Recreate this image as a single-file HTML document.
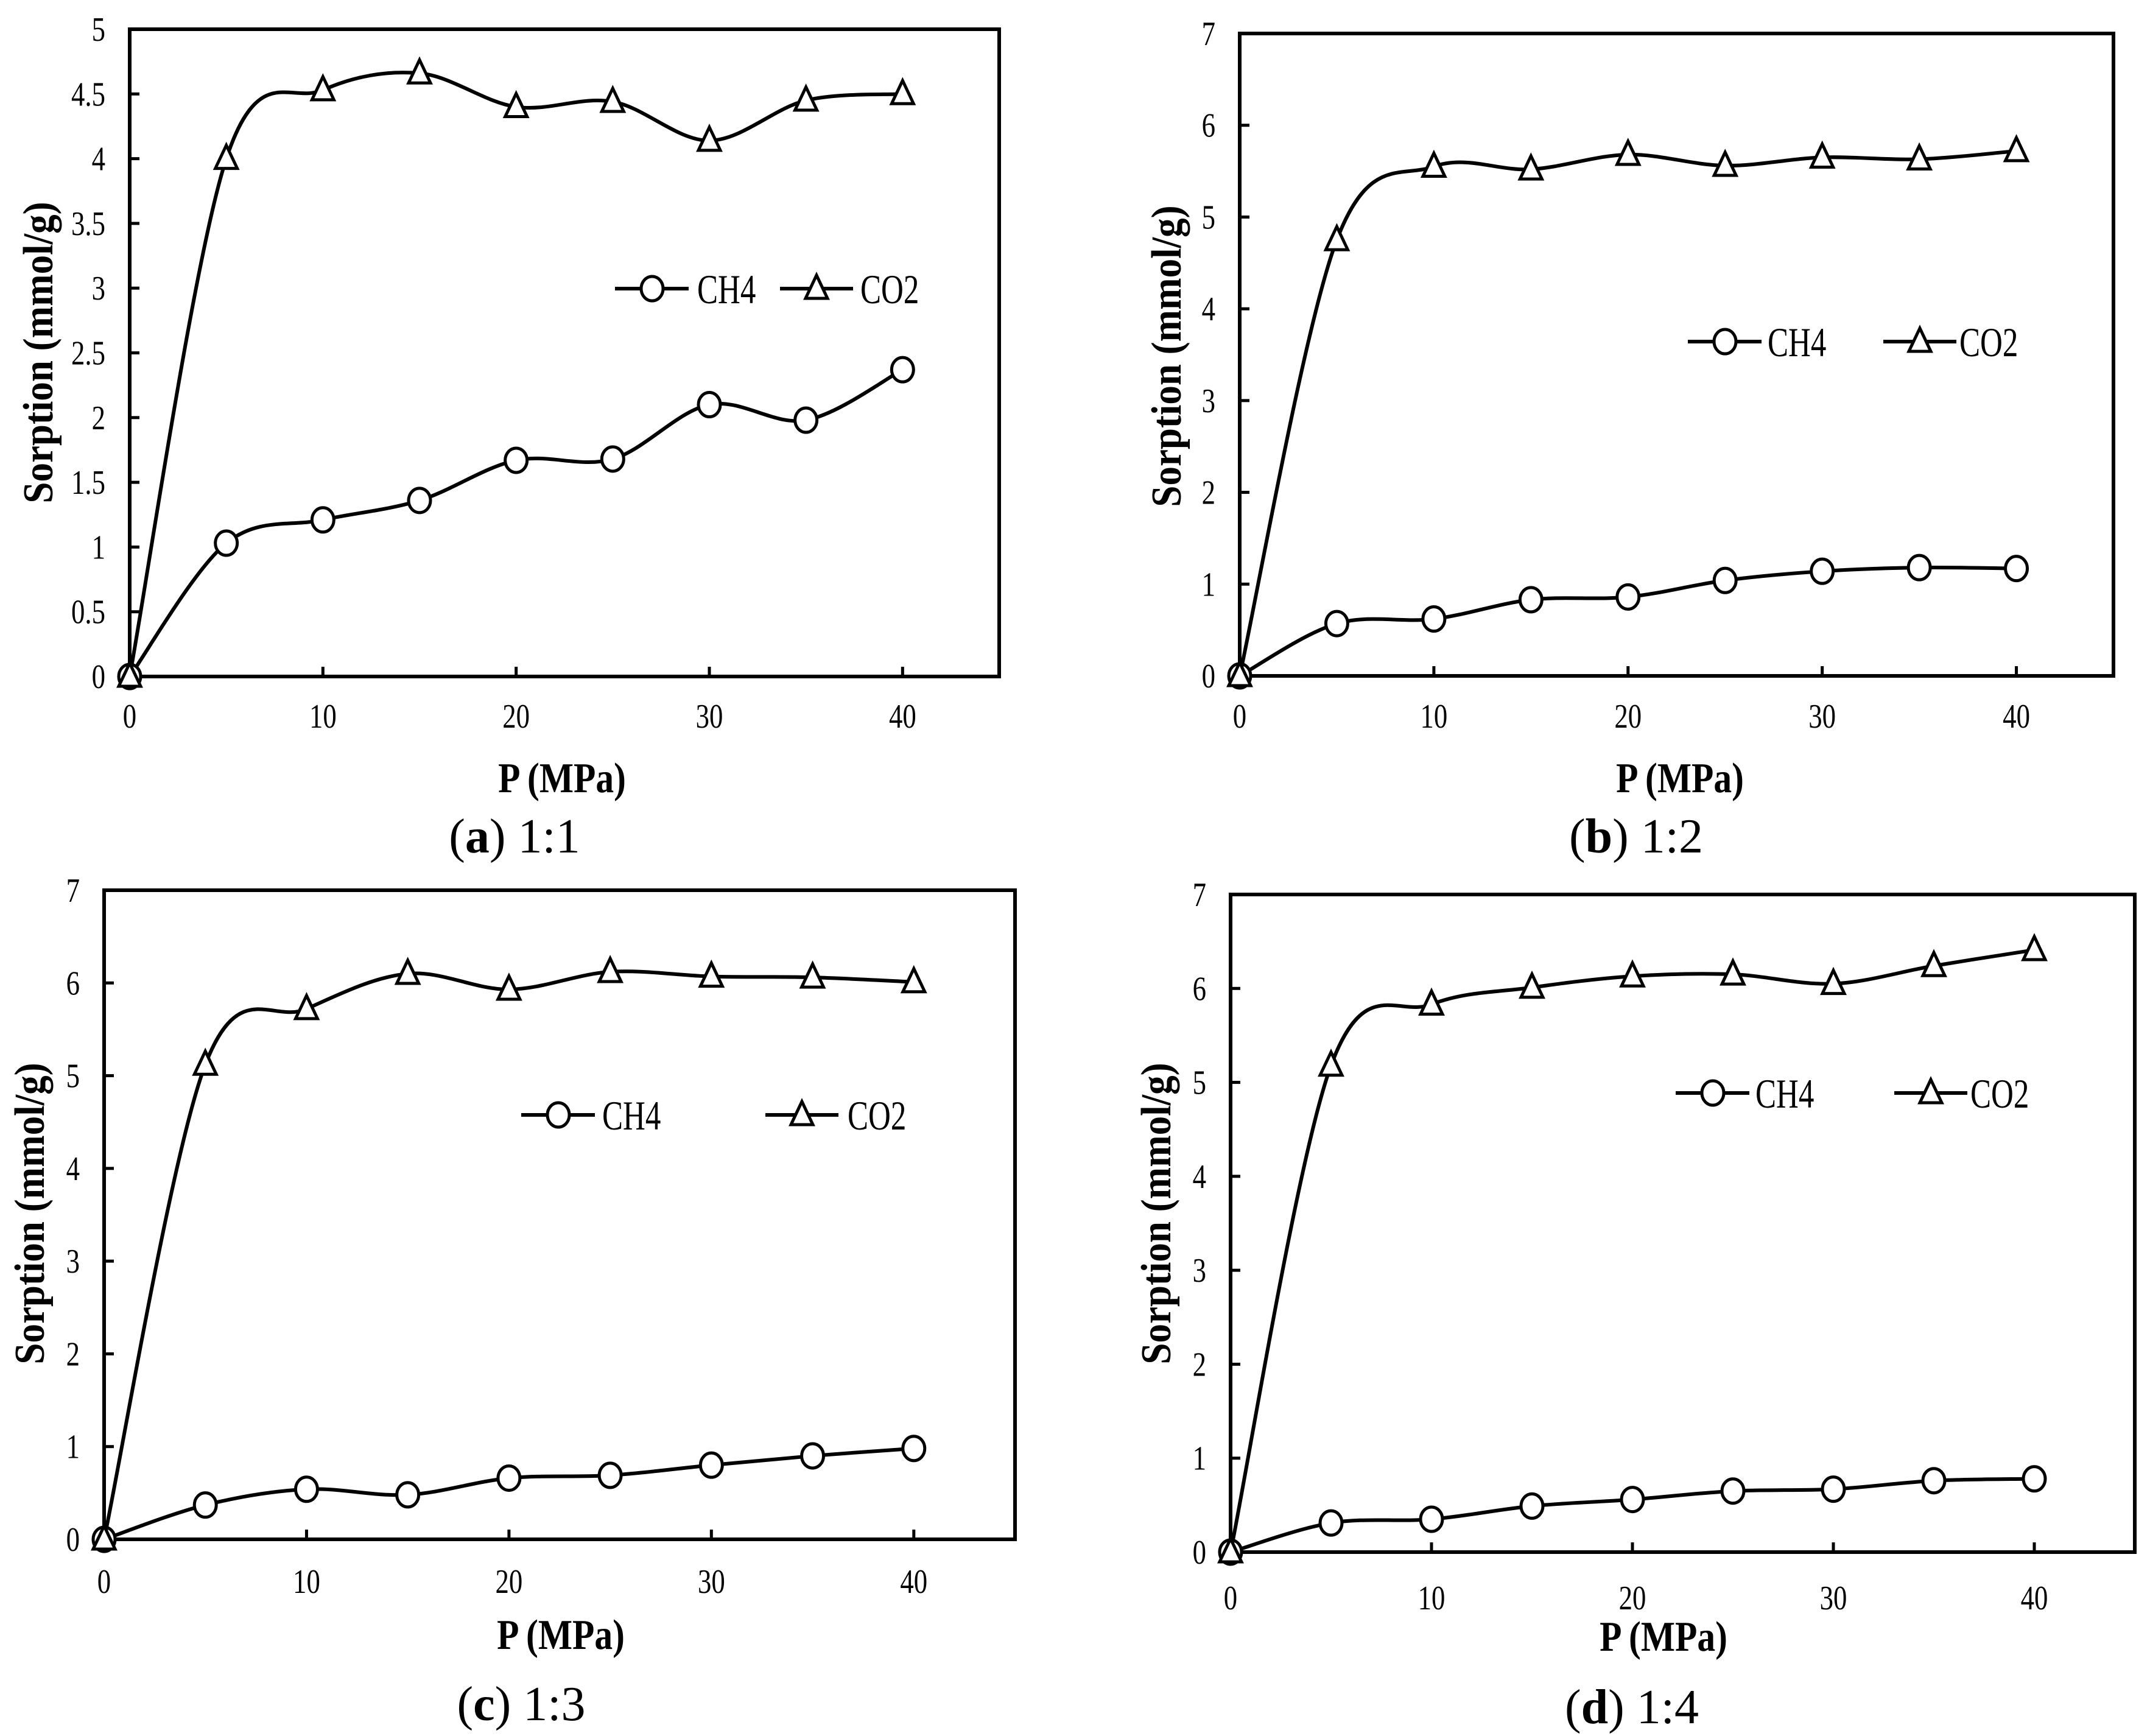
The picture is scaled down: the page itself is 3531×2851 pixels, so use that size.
<!DOCTYPE html>
<html><head><meta charset="utf-8"><style>
html,body{margin:0;padding:0;background:#fff;}
svg{display:block;font-family:"Liberation Serif",serif;}
</style></head><body>
<svg id="fig" width="3531" height="2851" viewBox="0 0 3531 2851"></svg>
<script>
const pressures = [0,5,10,15,20,25,30,35,40];
const ch4A = [0,1.03,1.21,1.36,1.67,1.68,2.10,1.98,2.37];
const co2A = [0,4.00,4.53,4.66,4.40,4.44,4.14,4.45,4.50];
const ch4B = [0,0.57,0.62,0.83,0.86,1.04,1.14,1.18,1.17];
const co2B = [0,4.75,5.55,5.52,5.68,5.56,5.65,5.63,5.72];
const ch4C = [0,0.37,0.54,0.48,0.66,0.69,0.80,0.90,0.98];
const co2C = [0,5.12,5.72,6.10,5.93,6.12,6.07,6.06,6.01];
const ch4D = [0,0.31,0.35,0.49,0.56,0.65,0.67,0.76,0.78];
const co2D = [0,5.18,5.83,6.01,6.13,6.15,6.05,6.24,6.41];
const xTicks = [0,10,20,30,40];
const yTicksA = ["0","0.5","1","1.5","2","2.5","3","3.5","4","4.5","5"];
const yTicksB = ["0","1","2","3","4","5","6","7"];
const captionLetters = ["a","b","c","d"];
const captionRatios = ["1:1","1:2","1:3","1:4"];

const NS="http://www.w3.org/2000/svg";
const svg=document.getElementById('fig');
function mk(tag,attrs,parent){const e=document.createElementNS(NS,tag);for(const k in attrs)e.setAttribute(k,attrs[k]);(parent||svg).appendChild(e);return e;}
function ctext(g,x,y,str,size,anchor,sc,extra){
  const a=Object.assign({x:0,y:0,'text-anchor':anchor,'font-size':size,transform:`translate(${x},${y}) scale(${sc},1)`},extra||{});
  const t=mk('text',a,g);t.textContent=str;return t;
}

const panels=[
 {L:213,R:1641,T:48,B:1111,ymax:5,yt:yTicksA,ch4:ch4A,co2:co2A,xl:1176,px:923,py:1277,ytx:62,yty:579,cx:845,cy:1374,lg:{y:474,m1:1071,t1:1145,m2:1341,t2:1413}},
 {L:2036,R:3471,T:55,B:1110,ymax:7,yt:yTicksB,ch4:ch4B,co2:co2B,xl:1176,px:2759,py:1277,ytx:1915,yty:585,cx:2687,cy:1374,lg:{y:561,m1:2833,t1:2903,m2:3153,t2:3218}},
 {L:171,R:1667,T:1462,B:2528,ymax:7,yt:yTicksB,ch4:ch4C,co2:co2C,xl:2597,px:921,py:2684,ytx:48,yty:1993,cx:856,cy:2799,lg:{y:1831,m1:917,t1:989,m2:1317,t2:1392}},
 {L:2021,R:3506,T:1469,B:2549,ymax:7,yt:yTicksB,ch4:ch4D,co2:co2D,xl:2624,px:2732,py:2687,ytx:1898,yty:1993,cx:2680,cy:2804,lg:{y:1795,m1:2813,t1:2883,m2:3171,t2:3236}}
];

function smoothPath(pts){
  let d=`M${pts[0][0]},${pts[0][1]}`;
  for(let i=0;i<pts.length-1;i++){
    const p0=pts[Math.max(0,i-1)],p1=pts[i],p2=pts[i+1],p3=pts[Math.min(pts.length-1,i+2)];
    const c1=[p1[0]+(p2[0]-p0[0])/6,p1[1]+(p2[1]-p0[1])/6];
    const c2=[p2[0]-(p3[0]-p1[0])/6,p2[1]-(p3[1]-p1[1])/6];
    d+=` C${c1[0]},${c1[1]} ${c2[0]},${c2[1]} ${p2[0]},${p2[1]}`;
  }
  return d;
}
function circle(g,x,y){return mk('ellipse',{cx:x,cy:y,rx:18,ry:20,fill:'#fff',stroke:'#000','stroke-width':5},g);}
function tri(g,x,y){return mk('polygon',{points:`${x},${y-22} ${x-18},${y+16} ${x+18},${y+16}`,fill:'#fff',stroke:'#000','stroke-width':5},g);}

panels.forEach((p,i)=>{
  const g=mk('g',{});
  
  
  const sx=v=>p.L+(v/45)*(p.R-p.L);
  const sy=v=>p.B-(v/p.ymax)*(p.B-p.T);
  const box=mk('rect',{x:p.L,y:p.T,width:p.R-p.L,height:p.B-p.T,fill:'none',stroke:'#000','stroke-width':6},g);
  
  
  p.yt.forEach(t=>{
    const y=sy(parseFloat(t));
    mk('line',{x1:p.L,x2:p.L+16,y1:y,y2:y,stroke:'#000','stroke-width':5},g);
    const tx=ctext(g,p.L-40,y+19,t,56,'end',0.8);
    
    
  });
  xTicks.forEach(t=>{
    const x=sx(t);
    mk('line',{x1:x,x2:x,y1:p.B,y2:p.B-16,stroke:'#000','stroke-width':5},g);
    const tx=ctext(g,x,p.xl+19,String(t),56,'middle',0.8);
    
    
  });
  const xt=ctext(g,p.px,p.py+24,'P (MPa)',70,'middle',0.85,{'font-weight':'bold'});
  
  
  const yt=mk('text',{x:0,y:0,'text-anchor':'middle','font-size':70,'font-weight':'bold',transform:`translate(${p.ytx+24},${p.yty}) rotate(-90) scale(0.9,1)`},g);
  yt.textContent='Sorption (mmol/g)';
  
  
  const cap=mk('text',{x:p.cx,y:p.cy+26,'text-anchor':'middle','font-size':80},g);
  const b=mk('tspan',{},cap);b.textContent='(';
  const b2=mk('tspan',{'font-weight':'bold'},cap);b2.textContent=captionLetters[i];
  const b3=mk('tspan',{},cap);b3.textContent=') '+captionRatios[i];
  
  
  [['ch4',p.ch4,circle],['co2',p.co2,tri]].forEach(([nm,vals,mark])=>{
    const pts=pressures.map((x,k)=>[sx(x),sy(vals[k])]);
    const path=mk('path',{d:smoothPath(pts),fill:'none',stroke:'#000','stroke-width':6},g);
    
    
    pts.forEach(pt=>{
      const m=mark(g,pt[0],pt[1]);
      
      
    });
  });
  const lg=p.lg;
  const l1=mk('line',{x1:lg.m1-61,x2:lg.m1+60,y1:lg.y,y2:lg.y,stroke:'#000','stroke-width':6},g);
  
  
  const lm1=circle(g,lg.m1,lg.y);
  
  
  const lt1=ctext(g,lg.t1,lg.y+24,'CH4',68,'start',0.75);
  
  
  const l2=mk('line',{x1:lg.m2-60,x2:lg.m2+60,y1:lg.y,y2:lg.y,stroke:'#000','stroke-width':6},g);
  
  
  const lm2=tri(g,lg.m2,lg.y);
  
  
  const lt2=ctext(g,lg.t2,lg.y+24,'CO2',68,'start',0.75);
  
  
});
</script>
</body></html>
